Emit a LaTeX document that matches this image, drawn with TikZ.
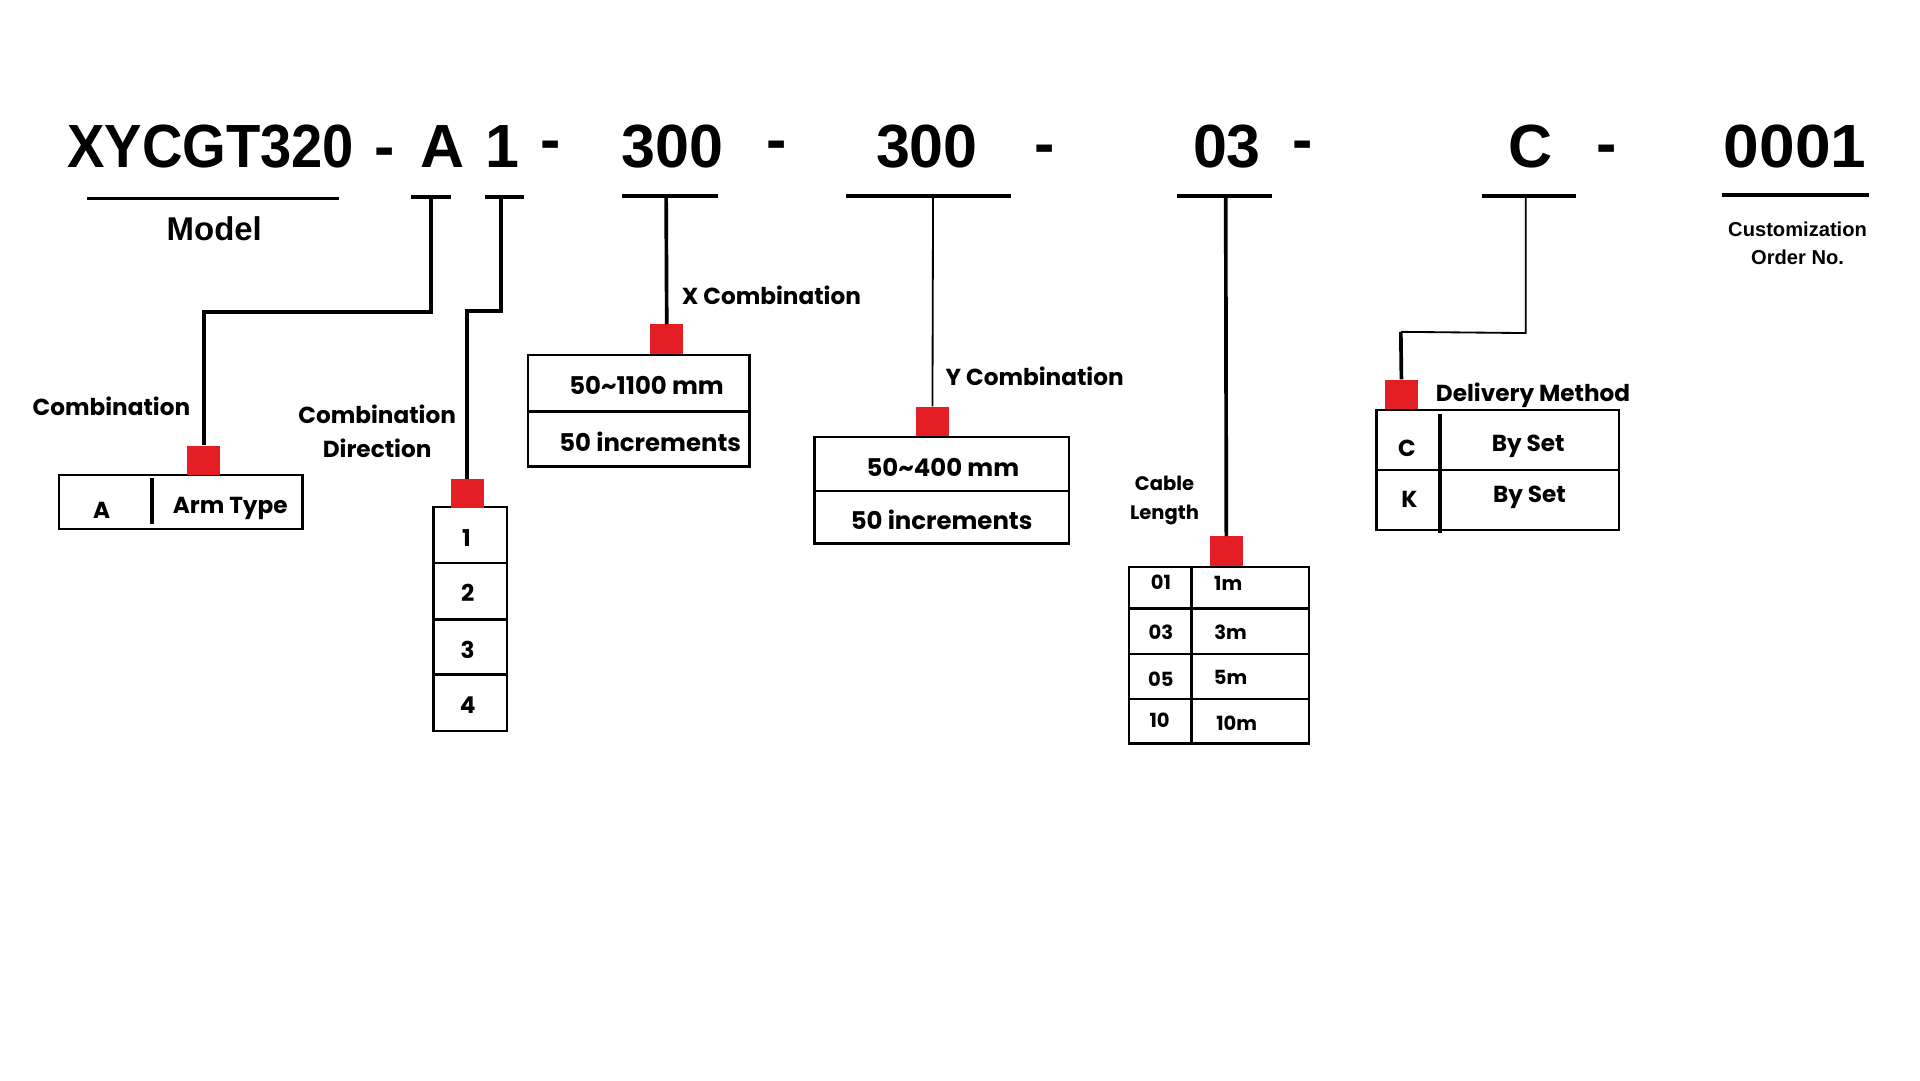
\documentclass[tikz,border=0pt]{standalone}
\usepackage{fontspec}
\setmainfont{Poppins}
\newfontfamily\titlefont{Liberation Sans}
\definecolor{sqred}{HTML}{E31E24}
\begin{document}
\begin{tikzpicture}[x=1bp,y=-1bp,
  title/.style={font=\titlefont\bfseries\fontsize{50}{60}\selectfont, anchor=base, inner sep=0pt},
  ul/.style={line width=3bp},
  conn/.style={line width=3bp},
  thinconn/.style={line width=1.5bp},
  box/.style={draw, line width=2bp, inner sep=0pt},
  redsq/.style={fill=sqred, draw=none, minimum width=27bp, minimum height=24bp, inner sep=0pt},
  lbl/.style={font=\bfseries\fontsize{19}{28}\selectfont, inner sep=0pt, yshift=-1.5bp},
  small/.style={font=\bfseries\fontsize{16}{24}\selectfont, inner sep=0pt, yshift=-1.5bp},
  cell/.style={font=\bfseries\fontsize{19}{22}\selectfont, inner sep=0pt, yshift=-2.5bp},
  wcell/.style={font=\bfseries\fontsize{20}{24}\selectfont, inner sep=0pt, yshift=-1.5bp},
  tcell/.style={font=\bfseries\fontsize{16}{20}\selectfont, inner sep=0pt, yshift=-1.5bp}
]
\useasboundingbox[fill=white] (0,0) rectangle (1568,882);

% ---- top code line
\node[title] (tModel) at (172,137) {\scalebox{0.92}[1]{XYCGT320}};
\node[title] (d1) at (314,137) {-};
\node[title] (tA) at (361,137) {A};
\node[title] (t1) at (410,137) {1};
\node[title] (d2) at (450,131) {-};
\node[title] (tX) at (549,137) {300};
\node[title] (d3) at (634,131) {-};
\node[title] (tY) at (757,137) {300};
\node[title] (d4) at (853,134) {-};
\node[title] (t03) at (1002,137) {03};
\node[title] (d5) at (1064,131) {-};
\node[title] (tC) at (1250,137) {C};
\node[title] (d6) at (1312,134) {-};
\node[title] (t0001) at (1466,137) {\scalebox{1.05}[1]{0001}};

% ---- underlines
\coordinate (ulA) at (352,161);
\coordinate (ul1) at (409,161);
\coordinate (ulX) at (544,160);
\coordinate (ulY) at (762,160);
\coordinate (ul03) at (1001,160);
\coordinate (ulC) at (1246,160);
\draw[ul] (71,162) -- (277,162);
\draw[ul] (336,161) -- (368,161);
\draw[ul] (396,161) -- (428,161);
\draw[ul] (508,160) -- (586,160);
\draw[ul] (691,160) -- (826,160);
\draw[ul] (961,160) -- (1039,160);
\draw[ul] (1210,160) -- (1287,160);
\draw[ul] (1406,159) -- (1526,159);

\node[font=\titlefont\bfseries\fontsize{27}{30}\selectfont, inner sep=0pt] (lModel) at (175,187) {Model};
\node[font=\titlefont\bfseries\fontsize{16.5}{23}\selectfont, align=center, inner sep=0pt] (lCust) at (1468,199) {Customization\\Order No.};

% ---- labels
\node[lbl] (lComb) at (91,330) {Combination};
\node[lbl, align=center] (lDir) at (308,351) {Combination\\Direction};
\node[lbl] (lX) at (630,240) {X Combination};
\node[lbl] (lY) at (845,306) {Y Combination};
\node[small, align=center] (lCable) at (951,407) {Cable\\Length};
\node[lbl] (lDel) at (1252,321) {Delivery Method};

% ---- boxes
\node[box, minimum width=199bp, minimum height=44bp] (armbox) at (147.5,410) {};
\draw[line width=3.5bp] (124,390) -- (124,428);
\node[cell] (cA) at (83,414) {A};
\node[cell] (cArm) at (188,413) {Arm Type};

\node[box, minimum width=60bp, minimum height=183bp] (dirbox) at (384,505.5) {};
\draw[box] (dirbox.west |- 0,460) -- (dirbox.east |- 0,460);
\draw[box] (dirbox.west |- 0,506) -- (dirbox.east |- 0,506);
\draw[box] (dirbox.west |- 0,551) -- (dirbox.east |- 0,551);
\node[cell] (c1) at (381,437) {1};
\node[cell] (c2) at (382,482) {2};
\node[cell] (c3) at (382,528) {3};
\node[cell] (c4) at (382,573) {4};

\node[box, minimum width=181bp, minimum height=91bp] (xbox) at (521.5,335.5) {};
\draw[box] (xbox.west |- 0,336) -- (xbox.east |- 0,336);
\node[wcell] (cX1) at (528,313) {50\textasciitilde1100 mm};
\node[wcell] (cX2) at (531,359) {50 increments};

\node[box, minimum width=208bp, minimum height=87bp] (ybox) at (769,400.5) {};
\draw[box] (ybox.west |- 0,401) -- (ybox.east |- 0,401);
\node[wcell] (cY1) at (770,380) {50\textasciitilde400 mm};
\node[wcell] (cY2) at (769,423) {50 increments};

\node[box, minimum width=147bp, minimum height=144bp] (cbox) at (995.5,535) {};
\draw[box] (973,463) -- (973,607);
\draw[box] (cbox.west |- 0,497) -- (cbox.east |- 0,497);
\draw[box] (cbox.west |- 0,534) -- (cbox.east |- 0,534);
\draw[box] (cbox.west |- 0,571) -- (cbox.east |- 0,571);
\node[tcell] (k01) at (948,474) {01};
\node[tcell] (v01) at (1003,475) {1m};
\node[tcell] (k03) at (948,515) {03};
\node[tcell] (v03) at (1005,515) {3m};
\node[tcell] (k05) at (948,553) {05};
\node[tcell] (v05) at (1005,552) {5m};
\node[tcell] (k10) at (947,587) {10};
\node[tcell] (v10) at (1010,589) {10m};

\node[box, minimum width=198bp, minimum height=98bp] (dbox) at (1223,384) {};
\draw[box] (dbox.west |- 0,384) -- (dbox.east |- 0,384);
\draw[line width=3.5bp] (1176,338) -- (1176,435);
\node[cell] (dC) at (1149,364) {C};
\node[cell] (dC2) at (1248,362) {By Set};
\node[cell] (dK) at (1151,405) {K};
\node[cell] (dK2) at (1249,404) {By Set};

% ---- red squares
\node[redsq] (sqA) at (166.5,376) {};
\node[redsq] (sq1) at (381.5,403) {};
\node[redsq] (sqX) at (544.5,277) {};
\node[redsq] (sqY) at (761.5,344) {};
\node[redsq] (sq03) at (1001.5,450) {};
\node[redsq] (sqC) at (1144.5,322) {};

% ---- connectors
\coordinate (bA) at (352,255);
\coordinate (b1) at (409,254);
\coordinate (bC1) at (1246,272);
\coordinate (bC2) at (1144,271);
\draw[conn] (ulA) -- (bA) -| (sqA.north);
\draw[conn] (ul1) -- (b1) -| (sq1.north);
\draw[conn] (ulX) -- (sqX.north);
\draw[thinconn] (ulY) -- (sqY.north);
\draw[conn] (ul03) -- (sq03.north);
\draw[thinconn] (ulC) -- (bC1) -- (bC2);
\draw[conn] (bC2) -- (sqC.north);
\end{tikzpicture}
\end{document}
